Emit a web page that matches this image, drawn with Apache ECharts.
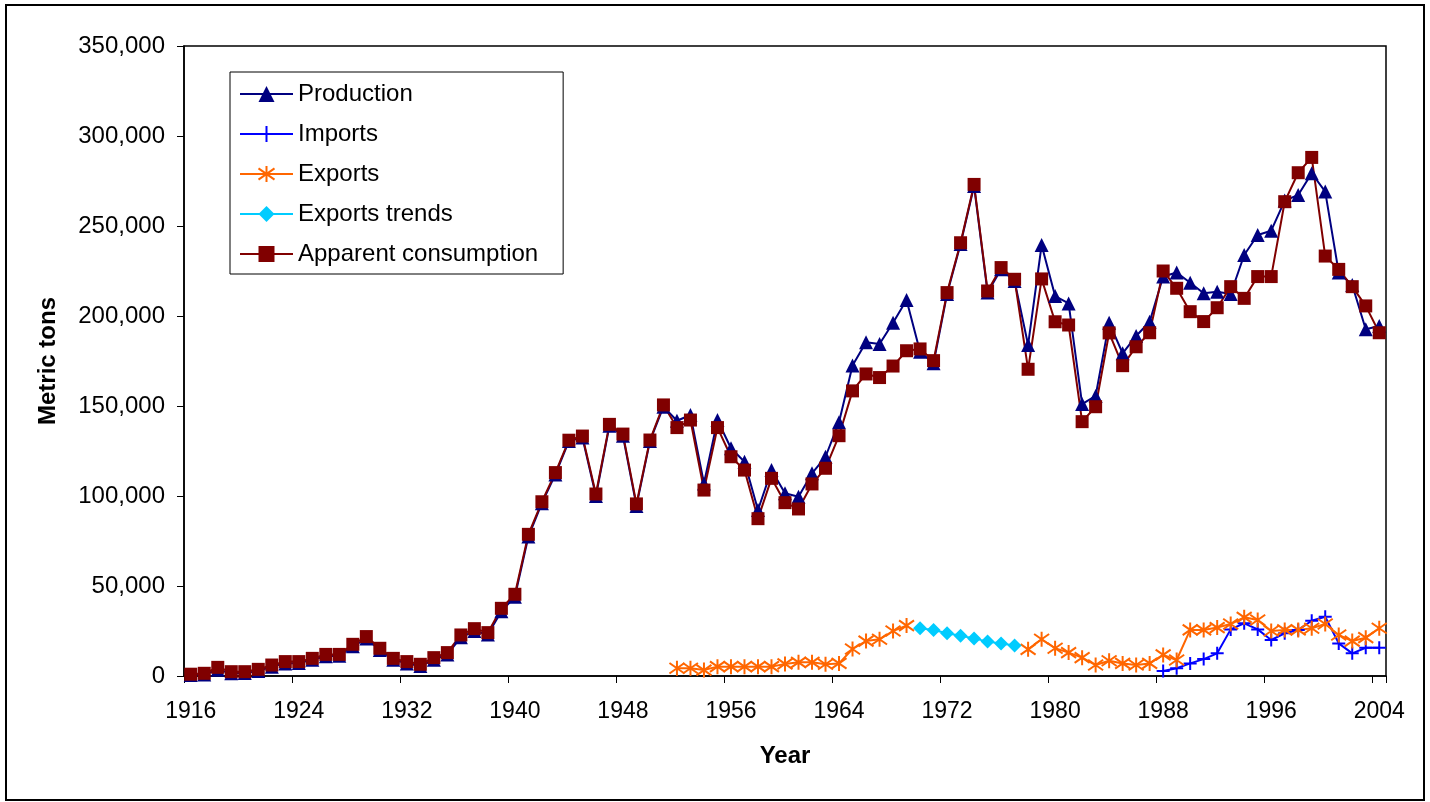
<!DOCTYPE html>
<html>
<head>
    <meta charset="utf-8">
    <title>Metric tons by year</title>
    <script src="https://cdn.jsdelivr.net/npm/echarts@6/dist/echarts.min.js" type="text/javascript" charset="utf-8"></script>
</head>
<body style="margin:0;background:#fff;">
<div id="main" style="width: 1430px;height: 802px;"></div>
<script type="text/javascript">

    // years on the category axis, 1916 - 2004
    var firstYear = 1916;
    var lastYear = 2004;
    var years = [];
    for (var y = firstYear; y <= lastYear; y++) {
        years.push(String(y));
    }

    // 1916 - 2004
    var production = [
        500, 800, 3500, 1500, 1600, 2800, 5200, 7000, 7200, 9000,
        11000, 11200, 16500, 20800, 14500, 9000, 7000, 5500, 9000, 12000,
        21500, 25000, 23000, 36000, 44000, 77500, 96000, 112000, 130500, 132500,
        100000, 139000, 133500, 94500, 130500, 149600, 141800, 145000, 107000, 142200,
        126500, 119000, 92200, 114400, 101500, 99600, 112600, 121800, 141000, 172500,
        185400, 184400, 196300, 208900, 180200, 173700, 212200, 240000, 272200, 213000,
        226000, 219500, 183900, 239400, 211100, 207000, 151100, 155600, 196300, 179300,
        188900, 196800, 221900, 224200, 218500, 212600, 213500, 212200, 233900, 245000,
        247400, 264100, 267200, 279300, 269100, 224100, 217200, 192600, 194400
    ];

    // 1916 - 2004
    var consumption = [
        1000, 1500, 4800, 2400, 2400, 3700, 6100, 8000, 8000, 9800,
        12000, 12000, 17600, 21900, 15400, 9800, 8000, 6500, 10200, 13000,
        22800, 26300, 24100, 37600, 45400, 78700, 96800, 113000, 131000, 133300,
        101100, 139800, 134400, 95600, 131100, 150600, 138000, 142200, 103300, 138000,
        121800, 114400, 87400, 109800, 96300, 92800, 106700, 115400, 133500, 158400,
        167800, 165800, 172200, 180700, 181700, 175200, 213000, 240700, 273100, 213900,
        226900, 220400, 170400, 220600, 196800, 195000, 141300, 149600, 190600, 172400,
        182900, 190700, 225000, 215400, 202400, 196900, 204600, 216300, 209800, 221900,
        221900, 263500, 279600, 288100, 233300, 225900, 216300, 205600, 190700
    ];

    // 1952 - 2004, no figures 1970 - 1977
    var exportsStart = 1952;
    var exportsValues = [
        4300, 4300, 3300, 5200, 5200, 5200, 5200, 5200, 6700, 7600,
        7600, 6500, 7000, 15000, 19400, 20400, 25000, 28000,
        null, null, null, null, null, null, null, null,
        14800, 20400, 15400, 13000, 10200, 6100, 8500, 7000, 6100, 7000,
        11700, 8900, 25600, 25600, 26900, 28900, 32600, 31100, 25000, 25600,
        25600, 26500, 28900, 22800, 19400, 21300, 26500
    ];

    // 1970 - 1977
    var trendsStart = 1970;
    var trendsValues = [26500, 25600, 23700, 22400, 20900, 19100, 18100, 16900];

    // 1988 - 2004
    var importsStart = 1988;
    var importsValues = [
        2800, 4300, 7000, 9400, 12600, 25900, 29300, 25900, 20000, 23700,
        25600, 30700, 32900, 18100, 12600, 15700, 15700
    ];

    function fromYear(start, values) {
        return values.map(function (v, i) {
            return [start + i - firstYear, v];
        });
    }

    var font = "'Liberation Sans', Arial, sans-serif";
    var plusPath = 'path://M5,0 L5,10 M0,5 L10,5';
    var starPath = 'path://M5,0 L5,10 M1.5,1.5 L8.5,8.5 M8.5,1.5 L1.5,8.5';

    var myChart = echarts.init(document.getElementById('main'));

    myChart.setOption({
        animation: false,
        backgroundColor: '#fff',
        textStyle: { fontFamily: font },
        graphic: [{
            type: 'rect',
            shape: { x: 6, y: 5, width: 1418, height: 795 },
            style: { fill: 'none', stroke: '#000', lineWidth: 2 },
            z: 0
        }],
        grid: {
            left: 184, right: 44, top: 46, bottom: 126,
            show: true, borderColor: '#000', borderWidth: 1.5
        },
        legend: {
            orient: 'vertical',
            left: 230,
            top: 72,
            itemWidth: 53,
            itemHeight: 20,
            itemGap: 16,
            padding: [10, 25, 8, 9],
            borderColor: '#000',
            borderWidth: 1,
            backgroundColor: '#fff',
            textStyle: { fontFamily: font, fontSize: 24, color: '#000', lineHeight: 24 },
            data: ['Production', 'Imports', 'Exports', 'Exports trends', 'Apparent consumption']
        },
        xAxis: {
            type: 'category',
            data: years,
            boundaryGap: true,
            name: 'Year',
            nameLocation: 'middle',
            nameGap: 68,
            nameTextStyle: { fontFamily: font, fontSize: 24, fontWeight: 'bold', color: '#000' },
            axisLine: { lineStyle: { color: '#000', width: 1.5 } },
            axisTick: { show: true, interval: 7, length: 7, lineStyle: { color: '#000' } },
            axisLabel: { interval: 7, margin: 24, fontFamily: font, fontSize: 23, color: '#000' },
            splitLine: { show: false }
        },
        yAxis: {
            type: 'value',
            min: 0,
            max: 350000,
            interval: 50000,
            name: 'Metric tons',
            nameLocation: 'middle',
            nameRotate: 90,
            nameGap: 124,
            nameTextStyle: { fontFamily: font, fontSize: 24, fontWeight: 'bold', color: '#000' },
            axisLine: { show: true, lineStyle: { color: '#000', width: 1.5 } },
            axisTick: { show: true, length: 7, lineStyle: { color: '#000' } },
            axisLabel: {
                margin: 19, fontFamily: font, fontSize: 24, color: '#000',
                formatter: function (v) { return v.toLocaleString('en-US'); }
            },
            splitLine: { show: false }
        },
        series: [{
            name: 'Production',
            type: 'line',
            data: production,
            showAllSymbol: true,
            symbol: 'triangle',
            symbolSize: 14,
            color: '#000080',
            lineStyle: { color: '#000080', width: 2 },
            itemStyle: { color: '#000080' }
        }, {
            name: 'Imports',
            type: 'line',
            data: fromYear(importsStart, importsValues),
            showAllSymbol: true,
            symbol: plusPath,
            symbolSize: 13,
            color: '#0000ff',
            lineStyle: { color: '#0000ff', width: 2 },
            itemStyle: { color: '#0000ff', borderColor: '#0000ff', borderWidth: 2 }
        }, {
            name: 'Exports',
            type: 'line',
            data: fromYear(exportsStart, exportsValues),
            showAllSymbol: true,
            symbol: starPath,
            symbolSize: 15,
            color: '#ff6600',
            lineStyle: { color: '#ff6600', width: 2 },
            itemStyle: { color: '#ff6600', borderColor: '#ff6600', borderWidth: 2 }
        }, {
            name: 'Exports trends',
            type: 'line',
            data: fromYear(trendsStart, trendsValues),
            showAllSymbol: true,
            symbol: 'diamond',
            symbolSize: 14,
            color: '#00ccff',
            lineStyle: { color: '#00ccff', width: 2 },
            itemStyle: { color: '#00ccff' }
        }, {
            name: 'Apparent consumption',
            type: 'line',
            data: consumption,
            showAllSymbol: true,
            symbol: 'rect',
            symbolSize: 13,
            color: '#800000',
            lineStyle: { color: '#800000', width: 2 },
            itemStyle: { color: '#800000' }
        }]
    });
</script>
</body>
</html>
